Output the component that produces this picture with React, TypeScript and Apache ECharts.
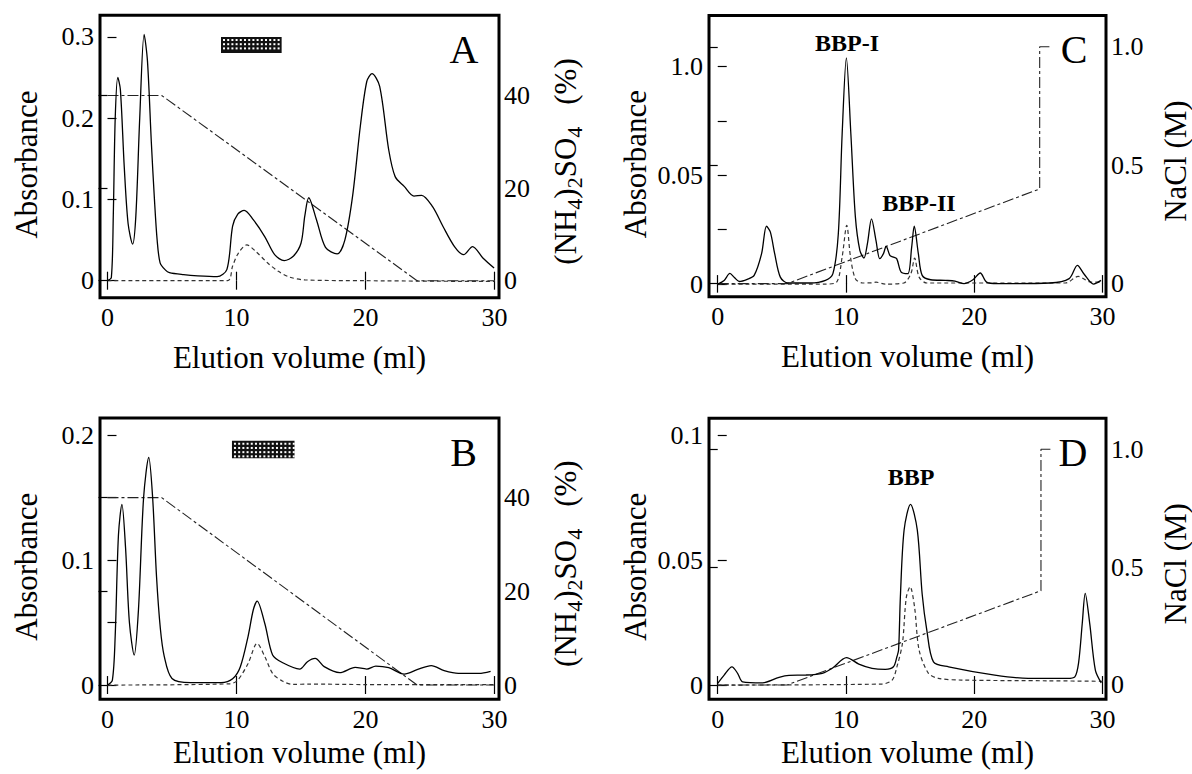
import React, { useEffect, useRef } from 'react';
import * as echarts from 'echarts';

const FONT = "'Liberation Serif', 'Times New Roman', Times, serif";

// ---------- data (elution volume ml, value) ----------
const aSolid: number[][] = [[0,0],[0.3,0.004],[0.45,0.08],[0.6,0.2],[0.8,0.25],[1.0,0.235],[1.3,0.14],[1.6,0.07],[1.95,0.045],[2.2,0.08],[2.5,0.2],[2.84,0.303],[3.1,0.27],[3.4,0.17],[3.64,0.1],[3.85,0.05],[4.08,0.022],[4.5,0.013],[4.8,0.01],[5.9,0.0075],[7.0,0.006],[8.5,0.005],[9.26,0.014],[9.7,0.067],[10.1,0.082],[10.6,0.0865],[11.3,0.075],[12.2,0.054],[12.96,0.032],[13.7,0.0246],[14.4,0.03],[15.0,0.046],[15.3,0.08],[15.6,0.102],[16.2,0.075],[16.9,0.041],[17.8,0.033],[18.4,0.05],[19.0,0.104],[19.6,0.19],[20.1,0.245],[20.5,0.2546],[21.1,0.239],[21.8,0.161],[22.3,0.128],[23.0,0.116],[23.76,0.104],[24.35,0.105],[25.2,0.091],[26.0,0.067],[26.9,0.042],[27.6,0.032],[28.3,0.042],[29.1,0.028],[29.97,0.0156]];
const aDashed: number[][] = [[0,0],[9.3,0],[9.7,0.018],[10.15,0.034],[10.8,0.044],[11.5,0.036],[12.4,0.022],[13.25,0.0115],[14.1,0.0045],[15.3,0.001],[20,0],[30,-0.001]];
const aSalt: number[][] = [[0,40],[4.2,40],[24,0],[30,0]];
const aFraction: number[] = [8.8, 13.5, 0.28, 0.2997];

const bSolid: number[][] = [[0,0],[0.38,0.004],[0.6,0.04],[0.85,0.12],[1.12,0.1445],[1.4,0.11],[1.7,0.05],[2.07,0.024],[2.4,0.06],[2.8,0.15],[3.2,0.182],[3.5,0.15],[3.8,0.087],[4.1,0.045],[4.4,0.023],[5.0,0.0053],[6.45,0.002],[8.8,0.002],[9.7,0.005],[10.3,0.0147],[10.9,0.039],[11.3,0.06],[11.6,0.0672],[12.2,0.049],[12.8,0.024],[13.55,0.018],[14.9,0.0128],[15.5,0.0187],[16.1,0.0213],[16.8,0.0147],[18.0,0.0099],[19.2,0.0141],[20.1,0.0128],[20.8,0.0152],[21.8,0.0139],[23.0,0.0088],[24.05,0.0125],[25.1,0.0155],[26.1,0.0115],[27.2,0.0093],[28.8,0.0093],[29.7,0.011]];
const bDashed: number[][] = [[0,0],[9.5,0.001],[10.1,0.004],[10.9,0.0173],[11.6,0.0333],[12.2,0.0227],[12.8,0.0093],[13.55,0.0032],[14.4,0.0005],[15.6,0.0008],[20,0.0004],[30,0.0004]];
const bSalt: number[][] = [[0,40],[4.2,40],[24,0],[30,0]];
const bFraction: number[] = [9.65, 14.5, 0.1814, 0.1954];

const cSolid: number[][] = [[0,0],[0.5,0.0017],[0.95,0.0049],[1.3,0.003],[1.68,0.0012],[2.3,0.0022],[2.84,0.004],[3.42,0.014],[3.8,0.0266],[4.1,0.024],[4.44,0.014],[4.88,0.0032],[5.47,0.0005],[7.2,0.0005],[8.4,0.0017],[8.98,0.0048],[9.4,0.023],[9.7,0.069],[10.03,0.104],[10.38,0.069],[10.73,0.031],[11.08,0.0155],[11.4,0.012],[11.67,0.0186],[11.99,0.03],[12.34,0.02],[12.63,0.0117],[12.92,0.014],[13.13,0.0174],[13.42,0.0132],[13.65,0.0125],[13.95,0.0117],[14.3,0.0055],[14.82,0.0048],[15.12,0.017],[15.32,0.0266],[15.64,0.014],[15.94,0.004],[16.6,0.002],[17.75,0.0017],[18.5,0.0014],[19.2,0.0002],[19.9,0.002],[20.47,0.0051],[20.96,0.0009],[21.8,0.0002],[25.9,0.0005],[27.4,0.0025],[28.04,0.0086],[28.57,0.0045],[29.3,0],[29.88,0.0017]];
const cDashed: number[][] = [[0,0],[8.4,0],[9.27,0.0009],[9.7,0.0125],[10.06,0.027],[10.35,0.0125],[10.73,0.0025],[11.3,0.0005],[12.0,0.0006],[12.34,0.0009],[13.07,0],[14.5,0.0005],[15.06,0.0048],[15.35,0.012],[15.7,0.0032],[16.3,0.0005],[27.1,0.0005],[28.1,0.0035],[29.1,0.0009],[29.8,0.0009]];
const cSalt: number[][] = [[0,0],[5.4,0],[25.1,0.4],[25.1,1.0],[26,1.0]];

const dSolid: number[][] = [[0,0.0007],[0.5,0.004],[1.11,0.0073],[1.55,0.0047],[1.94,0.0013],[3.49,0.0009],[4.78,0.0031],[5.56,0.0039],[6.86,0.004],[8.15,0.0047],[8.93,0.0067],[10.04,0.011],[11.0,0.0084],[12.03,0.0067],[13.07,0.0063],[13.7,0.0073],[13.97,0.0113],[14.1,0.014],[14.24,0.0353],[14.53,0.062],[15.03,0.0723],[15.56,0.062],[15.94,0.0363],[16.3,0.022],[16.82,0.0093],[18.0,0.0073],[21.6,0.004],[24.2,0.0027],[27.25,0.0027],[27.84,0.0033],[28.13,0.0088],[28.42,0.0247],[28.65,0.0367],[29.0,0.0247],[29.44,0.006],[29.9,0.0009]];
const dDashed: number[][] = [[0,0],[12.8,0.0004],[13.6,0.002],[13.97,0.0073],[14.4,0.0167],[14.7,0.035],[15.0,0.0393],[15.35,0.031],[15.7,0.014],[16.43,0.0047],[17.2,0.0027],[19.0,0.002],[25.8,0.0017],[30,0.0015]];
const dSalt: number[][] = [[0,0],[5.4,0],[25.2,0.4],[25.2,1.0],[26,1.0]];

// ---------- ticks & labels ----------
const xTicks = [0, 10, 20, 30];
const xLabels = ['0', '10', '20', '30'];
const aLeftTicks = [0, 0.1, 0.2, 0.3];
const aLeftLabels = ['0', '0.1', '0.2', '0.3'];
const bLeftTicks = [0, 0.05, 0.1, 0.15, 0.2];
const bLeftLabelVals = [0, 0.1, 0.2];
const bLeftLabels = ['0', '0.1', '0.2'];
const cLeftTicks = [0, 0.025, 0.05, 0.075, 0.1];
const cLeftLabelVals = [0, 0.05, 0.1];
const cLeftLabels = ['0', '0.05', '1.0'];
const dLeftTicks = [0, 0.05, 0.1];
const dLeftLabels = ['0', '0.05', '0.1'];
const saltTicks = [0, 20, 40];
const saltLabels = ['0', '20', '40'];
const naclTicks = [0, 0.5, 1.0];
const naclLabels = ['0', '0.5', '1.0'];

const X_NAME = '{n|Elution volume (ml)}';
const Y_NAME = '{n|Absorbance}';
const SALT_NAME = '{p|(NH}{s|4}{p|)}{s|2}{p|SO}{s|4}{g| }{p|(%)}';
const NACL_NAME = '{n|NaCl (M)}';

function fmt(vals: number[], labels: string[]) {
  return (v: number) => {
    const i = vals.findIndex((t) => Math.abs(t - v) < 1e-9);
    return i >= 0 ? '{t|' + labels[i] + '}' : '';
  };
}

interface Panel {
  grid: { left: number; top: number; width: number; height: number };
  xRange: [number, number];
  yRange: [number, number];
  rRange: [number, number];
  yTicks: number[];
  yLabelVals: number[];
  yLabels: string[];
  rTicks: number[];
  rLabels: string[];
  rName: string;
  rNameGap: number;
  xNameGap: number;
  solid: number[][];
  dashed: number[][];
  salt: number[][];
  fraction?: number[];
}

const panels: Panel[] = [
  {
    grid: { left: 100, top: 15.3, width: 399, height: 282.4 },
    xRange: [-0.58, 30.35], yRange: [-0.0209, 0.3264], rRange: [-3.67, 57.3],
    yTicks: aLeftTicks, yLabelVals: aLeftTicks, yLabels: aLeftLabels,
    rTicks: saltTicks, rLabels: saltLabels, rName: SALT_NAME, rNameGap: 46, xNameGap: 44,
    solid: aSolid, dashed: aDashed, salt: aSalt, fraction: aFraction,
  },
  {
    grid: { left: 100, top: 418, width: 399, height: 281.3 },
    xRange: [-0.58, 30.35], yRange: [-0.0114, 0.2136], rRange: [-3.05, 57.0],
    yTicks: bLeftTicks, yLabelVals: bLeftLabelVals, yLabels: bLeftLabels,
    rTicks: saltTicks, rLabels: saltLabels, rName: SALT_NAME, rNameGap: 46, xNameGap: 38,
    solid: bSolid, dashed: bDashed, salt: bSalt, fraction: bFraction,
  },
  {
    grid: { left: 709, top: 15.5, width: 398.5, height: 281.2 },
    xRange: [-0.68, 30.27], yRange: [-0.0058, 0.1235], rRange: [-0.055, 1.132],
    yTicks: cLeftTicks, yLabelVals: cLeftLabelVals, yLabels: cLeftLabels,
    rTicks: naclTicks, rLabels: naclLabels, rName: NACL_NAME, rNameGap: 54, xNameGap: 44,
    solid: cSolid, dashed: cDashed, salt: cSalt,
  },
  {
    grid: { left: 709, top: 418.3, width: 398.5, height: 281 },
    xRange: [-0.68, 30.27], yRange: [-0.0057, 0.1067], rRange: [-0.0607, 1.1316],
    yTicks: dLeftTicks, yLabelVals: dLeftTicks, yLabels: dLeftLabels,
    rTicks: naclTicks, rLabels: naclLabels, rName: NACL_NAME, rNameGap: 54, xNameGap: 38,
    solid: dSolid, dashed: dDashed, salt: dSalt,
  },
];

const tickStyle = { color: '#000', width: 1.2 };
const labelRich = { t: { fontFamily: FONT, fontSize: 26, color: '#000' } };
const nameRich = {
  n: { fontFamily: FONT, fontSize: 31, color: '#000' },
  p: { fontFamily: FONT, fontSize: 31, color: '#000', lineHeight: 40 },
  s: { fontFamily: FONT, fontSize: 22, color: '#000', lineHeight: 22, verticalAlign: 'bottom' },
  g: { fontFamily: FONT, fontSize: 31, width: 22 },
};
const labelStyle = { fontFamily: FONT, fontSize: 26, color: '#000', rich: labelRich };
const nameStyle = { fontFamily: FONT, fontSize: 31, color: '#000', rich: nameRich };

function buildOption() {
  const grid: any[] = [];
  const xAxis: any[] = [];
  const yAxis: any[] = [];
  const series: any[] = [];

  panels.forEach((p, i) => {
    grid.push({ ...p.grid, show: true, borderColor: '#000', borderWidth: 3, backgroundColor: 'transparent', containLabel: false });
    xAxis.push({
      type: 'value', gridIndex: i, position: 'bottom', min: p.xRange[0], max: p.xRange[1],
      axisLine: { show: false }, splitLine: { show: false },
      axisTick: { show: true, inside: true, length: 9, customValues: xTicks, lineStyle: tickStyle },
      axisLabel: { ...labelStyle, margin: 7, customValues: xTicks, formatter: fmt(xTicks, xLabels) },
      name: X_NAME, nameLocation: 'middle', nameGap: p.xNameGap, nameTextStyle: nameStyle,
    });
    xAxis.push({
      type: 'value', gridIndex: i, position: 'top', min: p.xRange[0], max: p.xRange[1],
      axisLine: { show: false }, splitLine: { show: false },
      axisTick: { show: true, inside: true, length: 9, customValues: xTicks, lineStyle: tickStyle },
      axisLabel: { show: false },
    });
    yAxis.push({
      type: 'value', gridIndex: i, position: 'left', min: p.yRange[0], max: p.yRange[1],
      axisLine: { show: false }, splitLine: { show: false },
      axisTick: { show: true, inside: true, length: 9, customValues: p.yTicks, lineStyle: tickStyle },
      axisLabel: { ...labelStyle, margin: 6, customValues: p.yLabelVals, formatter: fmt(p.yLabelVals, p.yLabels) },
      name: Y_NAME, nameLocation: 'middle', nameGap: 58,
      nameTextStyle: { ...nameStyle, padding: [0, 16, 0, 0] },
    });
    yAxis.push({
      type: 'value', gridIndex: i, position: 'right', min: p.rRange[0], max: p.rRange[1],
      axisLine: { show: false }, splitLine: { show: false },
      axisTick: { show: true, inside: true, length: 9, customValues: p.rTicks, lineStyle: tickStyle },
      axisLabel: { ...labelStyle, margin: 5, customValues: p.rTicks, formatter: fmt(p.rTicks, p.rLabels) },
      name: p.rName, nameLocation: 'middle', nameGap: p.rNameGap,
      nameTextStyle: { ...nameStyle, padding: [0, 10, 0, 0] },
    });

    series.push({
      type: 'line', xAxisIndex: 2 * i, yAxisIndex: 2 * i, data: p.solid,
      showSymbol: false, smooth: 0.3, silent: true,
      lineStyle: { color: '#000', width: 1.3 }, z: 3,
    });
    series.push({
      type: 'line', xAxisIndex: 2 * i, yAxisIndex: 2 * i, data: p.dashed,
      showSymbol: false, smooth: 0.3, silent: true,
      lineStyle: { color: '#333', width: 1.2, type: [4, 3] }, z: 2,
    });
    series.push({
      type: 'line', xAxisIndex: 2 * i, yAxisIndex: 2 * i + 1, data: p.salt,
      showSymbol: false, smooth: false, silent: true,
      lineStyle: { color: '#222', width: 1.1, type: [11, 3, 3, 3] }, z: 2,
    });
    if (p.fraction) {
      series.push({
        type: 'custom', xAxisIndex: 2 * i, yAxisIndex: 2 * i, silent: true,
        data: [p.fraction],
        renderItem: (_params: any, api: any) => {
          const tl = api.coord([api.value(0), api.value(3)]);
          const br = api.coord([api.value(1), api.value(2)]);
          const w = br[0] - tl[0];
          const h = br[1] - tl[1];
          const children: any[] = [
            { type: 'rect', shape: { x: tl[0], y: tl[1], width: w, height: h }, style: { fill: '#111' } },
          ];
          for (let yy = tl[1] + 2; yy < br[1] - 1.5; yy += 4.2) {
            for (let xx = tl[0] + 2; xx < br[0] - 1.5; xx += 4.2) {
              children.push({ type: 'rect', shape: { x: xx, y: yy, width: 2, height: 2 }, style: { fill: '#fff' } });
            }
          }
          return { type: 'group', children };
        },
        z: 4,
      });
    }
  });

  const letter = (text: string, x: number, y: number) => ({
    type: 'text', x, y, silent: true,
    style: { text, fontFamily: FONT, fontSize: 40, fill: '#000', align: 'center', verticalAlign: 'middle' },
  });
  const bold = (text: string, x: number, y: number) => ({
    type: 'text', x, y, silent: true,
    style: { text, fontFamily: FONT, fontSize: 24, fontWeight: 'bold', fill: '#000', align: 'center', verticalAlign: 'middle' },
  });

  return {
    animation: false,
    backgroundColor: '#fff',
    textStyle: { fontFamily: FONT, color: '#000' },
    grid, xAxis, yAxis, series,
    graphic: [
      letter('A', 464, 49),
      letter('B', 463.5, 452),
      letter('C', 1074, 49),
      letter('D', 1073, 452),
      bold('BBP-I', 847, 43),
      bold('BBP-II', 919, 203),
      bold('BBP', 911, 477),
    ],
  };
}

export default function App() {
  const ref = useRef<HTMLDivElement>(null);
  useEffect(() => {
    const chart = echarts.init(ref.current!, null, { renderer: 'svg' });
    chart.setOption(buildOption() as any);
    return () => chart.dispose();
  }, []);
  return (
    <div
      ref={ref}
      style={{ position: 'fixed', left: 0, top: 0, width: 1192, height: 774, background: '#fff' }}
    />
  );
}
